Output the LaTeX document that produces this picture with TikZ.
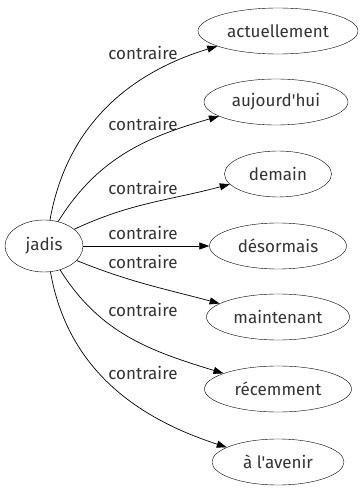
\documentclass[tikz,border=0pt]{standalone}
\usepackage{fontspec}
\setmainfont{Fira Sans}[Ligatures=TeXOff]
\usetikzlibrary{shapes.geometric}
\usetikzlibrary{arrows.meta}
\tikzset{word/.style = {draw, ellipse, inner sep = 0pt, minimum height = 46pt,
                        font = \fontsize{17}{19}\selectfont, text = black!80}}
\tikzset{rel/.style = {font = \fontsize{17}{19}\selectfont, text = black!80,
                       inner sep = 0pt}}
\tikzset{link/.style = {-{Triangle[length=10pt, width=7pt]}, line width = 0.7pt}}
\tikzset{every picture/.style={x=1pt, y=1pt}}
\begin{document}
\begin{tikzpicture}
    \useasboundingbox (0,0) rectangle (364,491);
    \node[word, minimum width=78pt, minimum height=52pt] (jadis) at (44,245) {jadis};
    \node[word, minimum width=160pt] (actuellement) at (278,460) {actuellement};
    \node[word, minimum width=144pt] (aujourdhui) at (276,389) {aujourd'hui};
    \node[word, minimum width=107pt] (demain) at (278,317) {demain};
    \node[word, minimum width=137pt] (desormais) at (278,245) {désormais};
    \node[word, minimum width=143pt] (maintenant) at (278,174) {maintenant};
    \node[word, minimum width=147pt] (recemment) at (278,102) {récemment};
    \node[word, minimum width=132pt] (avenir) at (278,29) {à l'avenir};
    % relation labels
    \node[rel] (r1) at (143,438) {contraire};
    \node[rel] (r2) at (143,367) {contraire};
    \node[rel] (r3) at (143,303) {contraire};
    \node[rel] (r4) at (143,258) {contraire};
    \node[rel] (r5) at (143,229) {contraire};
    \node[rel] (r6) at (143,181) {contraire};
    \node[rel] (r7) at (143,118) {contraire};
    % edges
    \draw[link] (jadis.77) to[out=80, in=197] (actuellement.194);
    \draw[link] (jadis.60) to[out=58, in=196] (aujourdhui.194);
    \draw[link] (jadis.29) to[out=25, in=195] (demain.192);
    \draw[link] (jadis) -- (desormais);
    \draw[link] (jadis.-24) to[out=-22, in=165] (maintenant.167);
    \draw[link] (jadis.-56) to[out=-58, in=163] (recemment.164);
    \draw[link] (jadis.-76) to[out=-80, in=162] (avenir.164);
\end{tikzpicture}
\end{document}
